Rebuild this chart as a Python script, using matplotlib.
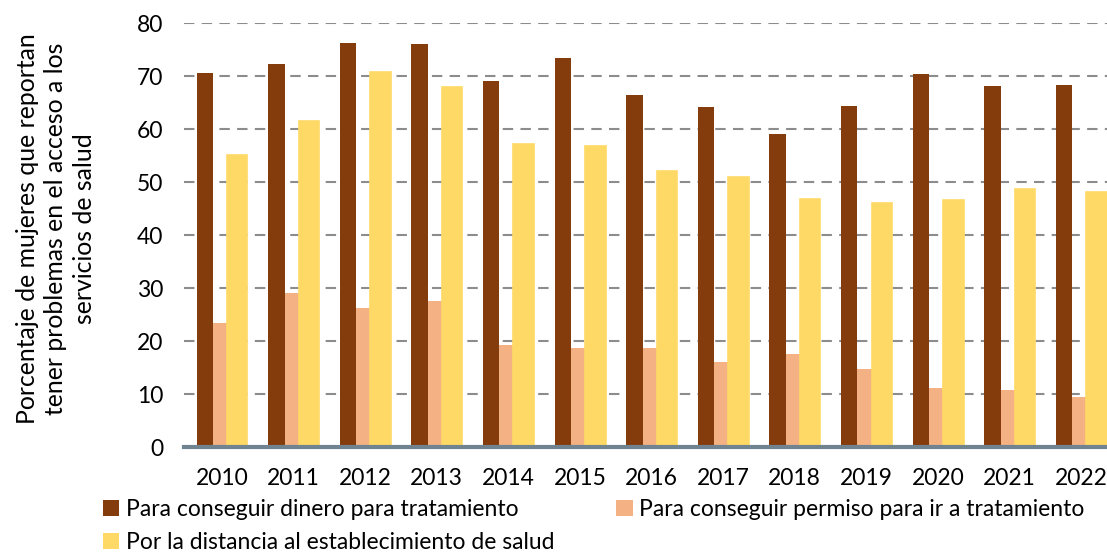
import numpy as np
import matplotlib
matplotlib.use('Agg')
import matplotlib.pyplot as plt
from matplotlib.patches import Patch

plt.rcParams['font.family'] = ['Lato', 'DejaVu Sans']

# Data
years = ['2010', '2011', '2012', '2013', '2014', '2015', '2016',
         '2017', '2018', '2019', '2020', '2021', '2022']
dinero = [70.6, 72.3, 76.2, 76.0, 69.1, 73.4, 66.5, 64.2, 59.1, 64.3, 70.4, 68.1, 68.3]
permiso = [23.4, 29.1, 26.3, 27.6, 19.3, 18.8, 18.8, 16.1, 17.6, 14.8, 11.1, 10.8, 9.4]
distancia = [55.2, 61.6, 70.7, 68.0, 57.1, 56.8, 52.1, 51.0, 46.8, 46.1, 46.6, 48.7, 48.1]

labels = ['Para conseguir dinero para tratamiento',
          'Para conseguir permiso para ir a tratamiento',
          'Por la distancia al establecimiento de salud']
colors = ['#843C0C', '#F4B183', '#FFD966']

fs = 16.5

fig = plt.figure(figsize=(11.07, 5.54), dpi=100)
ax = fig.add_axes([184 / 1107, 1 - 447.3 / 554, 1 - 184 / 1107, (447.3 - 23) / 554])

x = np.arange(len(years))
ax.bar(x - 0.24, dinero, 0.228, color=colors[0], zorder=2)
ax.bar(x + 0.01, permiso, 0.27, color=colors[1], zorder=2)
ax.bar(x + 0.214, distancia, 0.285, color=colors[2], edgecolor=colors[2],
       linewidth=1.2, zorder=2)

ax.set_xlim(-0.53, 12.36)
ax.set_ylim(0, 80)
ax.set_yticks(range(0, 81, 10))
ax.set_xticks(x)
ax.set_xticklabels(years)
ax.tick_params(axis='both', length=0, labelsize=fs, colors='black')
ax.tick_params(axis='y', pad=15)
ax.tick_params(axis='x', pad=15)

for s in ax.spines.values():
    s.set_visible(False)
ax.yaxis.grid(True, color='#8C8C8C', linewidth=1.5, linestyle=(0, (5, 3.5)), zorder=1)
ax.set_axisbelow(True)
ax.axhline(0, color='#6F8390', linewidth=3, zorder=3, clip_on=False)

fig.text(56 / 1107, 1 - 229 / 554,
         'Porcentaje de mujeres que reportan\ntener problemas en el acceso a los\nservicios de salud',
         rotation=90, ha='center', va='center', fontsize=17.8, multialignment='center',
         linespacing=1.3)

handles = [Patch(facecolor=colors[0], label=labels[0]),
           Patch(facecolor=colors[2], label=labels[2]),
           Patch(facecolor=colors[1], label=labels[1])]
fig.legend(handles=handles, loc='upper left', bbox_to_anchor=(94 / 1107, 1 - 490 / 554),
           ncol=2, frameon=False, fontsize=fs, handlelength=0.7, handleheight=0.7,
           handletextpad=0.3, columnspacing=2.7, labelspacing=0.5, borderaxespad=0)

fig.savefig('out.png', dpi=100)
